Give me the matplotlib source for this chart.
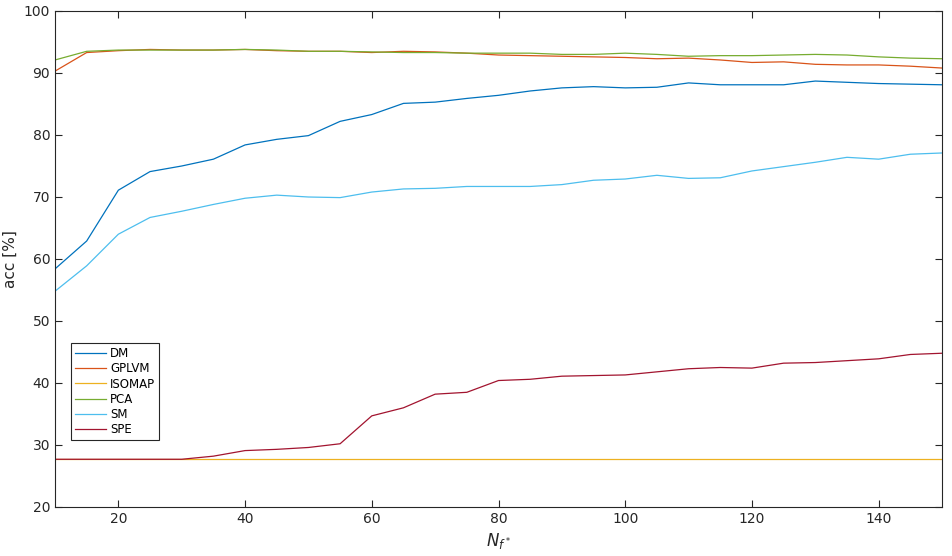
import numpy as np
import matplotlib
matplotlib.use('AGG')
import matplotlib.pyplot as plt

n_f = list(range(10, 151, 5))

dm = [58.4, 62.9, 71.1, 74.1, 75.0, 76.1, 78.4, 79.3, 79.9, 82.2, 83.3, 85.1, 85.3, 85.9, 86.4,
      87.1, 87.6, 87.8, 87.6, 87.7, 88.4, 88.1, 88.1, 88.1, 88.7, 88.5, 88.3, 88.2, 88.1]
gplvm = [90.3, 93.3, 93.6, 93.8, 93.7, 93.7, 93.8, 93.6, 93.5, 93.5, 93.3, 93.5, 93.4, 93.2, 92.9,
         92.8, 92.7, 92.6, 92.5, 92.3, 92.4, 92.1, 91.7, 91.8, 91.4, 91.3, 91.3, 91.1, 90.8]
isomap = [27.7] * 29
pca = [92.1, 93.5, 93.7, 93.7, 93.7, 93.7, 93.8, 93.7, 93.5, 93.5, 93.4, 93.3, 93.3, 93.2, 93.2,
       93.2, 93.0, 93.0, 93.2, 93.0, 92.7, 92.8, 92.8, 92.9, 93.0, 92.9, 92.6, 92.4, 92.3]
sm = [54.8, 58.9, 64.0, 66.7, 67.7, 68.8, 69.8, 70.3, 70.0, 69.9, 70.8, 71.3, 71.4, 71.7, 71.7,
      71.7, 72.0, 72.7, 72.9, 73.5, 73.0, 73.1, 74.2, 74.9, 75.6, 76.4, 76.1, 76.9, 77.1]
spe = [27.7, 27.7, 27.7, 27.7, 27.7, 28.2, 29.1, 29.3, 29.6, 30.2, 34.7, 36.0, 38.2, 38.5, 40.4,
       40.6, 41.1, 41.2, 41.3, 41.8, 42.3, 42.5, 42.4, 43.2, 43.3, 43.6, 43.9, 44.6, 44.8]

names = ['DM', 'GPLVM', 'ISOMAP', 'PCA', 'SM', 'SPE']
series = [dm, gplvm, isomap, pca, sm, spe]
colors = ['#0072bd', '#d95319', '#edb120', '#77ac30', '#4dbeee', '#a2142f']

fig = plt.figure(figsize=(9.52, 5.56), dpi=100)
ax = fig.add_axes([55/952, 49/556, 887/952, 496/556])

for name, vals, c in zip(names, series, colors):
    ax.plot(n_f, vals, color=c, lw=0.9, label=name)

ax.set_xlim(10, 150)
ax.set_ylim(20, 100)
ax.set_xticks([20, 40, 60, 80, 100, 120, 140])
ax.set_yticks(range(20, 101, 10))
ax.tick_params(direction='in', top=True, right=True, labelsize=10, colors='#262626', length=5)
for s in ax.spines.values():
    s.set_color('#262626')
    s.set_linewidth(0.8)

ax.set_xlabel('$N_{f^*}$', fontsize=12, color='#262626')
ax.set_ylabel('acc [%]', fontsize=11, color='#262626')

leg = ax.legend(loc='lower left', bbox_to_anchor=(0.018, 0.135), borderaxespad=0,
                fancybox=False, edgecolor='#262626', fontsize=8.5, handlelength=2.6,
                handletextpad=0.35, labelspacing=0.18, borderpad=0.35, framealpha=1)
leg.get_frame().set_linewidth(0.8)

plt.savefig('out.png', dpi=100)
